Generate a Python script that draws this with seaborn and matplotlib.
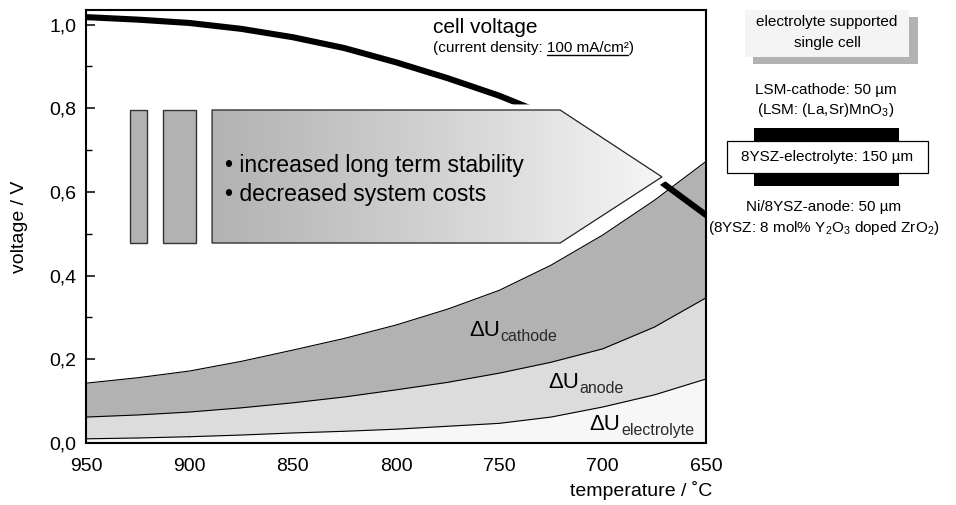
import numpy as np
import pandas as pd
import matplotlib
matplotlib.use("Agg")
import matplotlib.pyplot as plt
import seaborn as sns
from matplotlib.patches import Polygon, Rectangle
from matplotlib.colors import LinearSegmentedColormap
from matplotlib.ticker import MultipleLocator, FuncFormatter
from matplotlib.lines import Line2D

# ---------------- data ----------------
temperature = [950, 925, 900, 875, 850, 825, 800, 775, 750, 725, 700, 675, 650]
cell_voltage = [1.018, 1.012, 1.004, 0.990, 0.970, 0.944, 0.910, 0.872, 0.830, 0.780, 0.712, 0.636, 0.545]
# cumulative tops of the loss bands
du_electrolyte_top = [0.010, 0.012, 0.015, 0.019, 0.024, 0.028, 0.033, 0.040, 0.047, 0.062, 0.086, 0.115, 0.153]
du_anode_top = [0.062, 0.067, 0.074, 0.084, 0.096, 0.110, 0.127, 0.145, 0.167, 0.193, 0.225, 0.277, 0.347]
du_cathode_top = [0.143, 0.156, 0.172, 0.195, 0.222, 0.250, 0.282, 0.320, 0.365, 0.425, 0.497, 0.580, 0.673]

x_ticks = [950, 900, 850, 800, 750, 700, 650]
y_ticks = [0.0, 0.2, 0.4, 0.6, 0.8, 1.0]

df = pd.DataFrame({
    "temperature": temperature,
    "cell": cell_voltage,
    "electrolyte": du_electrolyte_top,
    "anode": du_anode_top,
    "cathode": du_cathode_top,
})

# ---------------- style ----------------
sns.set_theme(style="white")
plt.rcParams["font.family"] = ["Liberation Sans", "DejaVu Sans"]
plt.rcParams["mathtext.fontset"] = "custom"
plt.rcParams["mathtext.rm"] = "Liberation Sans"
plt.rcParams["mathtext.it"] = "Liberation Sans:italic"
plt.rcParams["mathtext.bf"] = "Liberation Sans:bold"
plt.rcParams["text.color"] = "black"
plt.rcParams["axes.labelcolor"] = "black"
plt.rcParams["xtick.color"] = "black"
plt.rcParams["ytick.color"] = "black"

W, H = 956, 505
fig = plt.figure(figsize=(W / 100, H / 100), dpi=100)
fig.patch.set_facecolor("white")
ax = fig.add_axes([86 / W, 62 / H, 620 / W, 433 / H])


def fx(px):
    return px / W


def fy(py):
    return 1 - py / H


# ---------------- bands ----------------
zeros = np.zeros(len(temperature))
ax.fill_between(df["temperature"], zeros, df["electrolyte"], color="#f7f7f7", lw=0, zorder=1)
ax.fill_between(df["temperature"], df["electrolyte"], df["anode"], color="#dcdcdc", lw=0, zorder=1)
ax.fill_between(df["temperature"], df["anode"], df["cathode"], color="#b2b2b2", lw=0, zorder=1)
for col in ["electrolyte", "anode", "cathode"]:
    sns.lineplot(data=df, x="temperature", y=col, color="black", lw=0.8, ax=ax, zorder=2)

sns.lineplot(data=df, x="temperature", y="cell", color="black", lw=4.4, ax=ax, zorder=3)

ax.set_xlim(950, 650)
ax.set_ylim(0, 1.035)
ax.set_xlabel("")
ax.set_ylabel("")

ax.set_xticks(x_ticks)
ax.set_yticks(y_ticks)
ax.xaxis.set_minor_locator(MultipleLocator(25))
ax.yaxis.set_minor_locator(MultipleLocator(0.1))
ax.yaxis.set_major_formatter(FuncFormatter(lambda v, p: f"{v:.1f}".replace(".", ",")))
ax.tick_params(which="both", direction="in", bottom=True, left=True, top=False, right=False,
               colors="black", labelcolor="black")
ax.tick_params(which="major", length=6.5, width=1.1, labelsize=14)
ax.tick_params(axis="x", which="major", pad=11)
ax.tick_params(axis="y", which="major", pad=7)
ax.tick_params(which="minor", length=4, width=1.0)
for s in ax.spines.values():
    s.set_visible(True)
    s.set_color("black")
    s.set_linewidth(1.5)

# ---------------- arrow / bars annotation ----------------
arrow_pts = [(889, 0.796), (720.6, 0.796), (671.3, 0.636), (720.6, 0.478), (889, 0.478)]
halo = Polygon(arrow_pts, closed=True, facecolor="white", edgecolor="white", lw=8, zorder=4)
ax.add_patch(halo)
clip = Polygon(arrow_pts, closed=True, facecolor="none", edgecolor="none", zorder=5)
ax.add_patch(clip)
cmap = LinearSegmentedColormap.from_list("g", ["#b2b2b2", "#d2d2d2", "#f6f6f6"])
grad = np.linspace(0, 1, 256).reshape(1, -1)
im = ax.imshow(grad, cmap=cmap, extent=(889, 671.3, 0.478, 0.796), aspect="auto",
               zorder=5, interpolation="bilinear")
im.set_clip_path(clip)
ax.add_patch(Polygon(arrow_pts, closed=True, facecolor="none", edgecolor="#222222", lw=0.9, zorder=6))

ax.add_patch(Rectangle((920.6, 0.478), 8.2, 0.318, facecolor="#b2b2b2", edgecolor="#333333", lw=1.0, zorder=5))
ax.add_patch(Rectangle((897.0, 0.478), 15.8, 0.318, facecolor="#b2b2b2", edgecolor="#333333", lw=1.0, zorder=5))
ax.set_xlim(950, 650)
ax.set_ylim(0, 1.035)

fig.text(fx(225), fy(172), "\u2022 increased long term stability", fontsize=16.6,
         ha="left", va="baseline", zorder=10)
fig.text(fx(225), fy(201), "\u2022 decreased system costs", fontsize=16.6,
         ha="left", va="baseline", zorder=10)

renderer = fig.canvas.get_renderer()

# ---------------- cell voltage label ----------------
fig.text(fx(433), fy(33), "cell voltage", fontsize=15, ha="left", va="baseline")
cd = fig.text(fx(433), fy(52), "(current density: 100 mA/cm\u00b2)", fontsize=11, ha="left", va="baseline")
tail = fig.text(0, 0, "100 mA/cm\u00b2)", fontsize=11, alpha=0)
par = fig.text(0, 0, ")", fontsize=11, alpha=0)
bb_full = cd.get_window_extent(renderer)
w_tail = tail.get_window_extent(renderer).width
w_par = par.get_window_extent(renderer).width
u0 = bb_full.x1 - w_tail
u1 = bb_full.x1 - w_par - 1
uy = fy(55)
fig.add_artist(Line2D([u0 / W, u1 / W], [uy, uy], color="black", lw=1.0, transform=fig.transFigure))


# ---------------- delta U labels ----------------
def du_label(px, py, sub, sub_drop=5):
    t = fig.text(fx(px), fy(py), "\u0394U", fontsize=16, ha="left", va="baseline", color="black", zorder=10)
    bb = t.get_window_extent(renderer)
    fig.text((bb.x1 + 1) / W, fy(py + sub_drop), sub, fontsize=11.5, ha="left", va="baseline",
             color="#2a2a2a", zorder=10)


du_label(469, 336, "cathode")
du_label(548, 388, "anode")
du_label(589, 430, "electrolyte")

# ---------------- axis labels ----------------
fig.text(fx(20), fy(227), "voltage / V", rotation=90, fontsize=14, ha="center", va="center")
fig.text(fx(712), fy(490), "temperature / \u02daC", fontsize=14, ha="right", va="center")


# ---------------- right-hand cell sketch ----------------
def rect_px(x0, y0, x1, y1, **kw):
    fig.add_artist(Rectangle((fx(x0), fy(y1)), (x1 - x0) / W, (y1 - y0) / H,
                             transform=fig.transFigure, **kw))


rect_px(753, 17, 918, 64, facecolor="#b2b2b2", edgecolor="none")
rect_px(745, 10, 909, 57, facecolor="#f4f4f4", edgecolor="none")
fig.text(fx(827), fy(22), "electrolyte supported", fontsize=11, ha="center", va="center")
fig.text(fx(827), fy(43), "single cell", fontsize=11, ha="center", va="center")

fig.text(fx(826), fy(90), "LSM-cathode: 50 \u00b5m", fontsize=11, ha="center", va="center")
fig.text(fx(826), fy(110), "(LSM: (La,Sr)MnO$_3$)", fontsize=11, ha="center", va="center")
rect_px(754, 128, 899, 141, facecolor="black", edgecolor="none")
rect_px(754, 173, 899, 186, facecolor="black", edgecolor="none")
rect_px(727, 141, 928, 173, facecolor="white", edgecolor="black", lw=0.9)
fig.text(fx(827), fy(157), "8YSZ-electrolyte: 150 \u00b5m", fontsize=11, ha="center", va="center")
fig.text(fx(824), fy(207), "Ni/8YSZ-anode: 50 \u00b5m", fontsize=11, ha="center", va="center")
fig.text(fx(824), fy(228), "(8YSZ: 8 mol% Y$_2$O$_3$ doped ZrO$_2$)", fontsize=11, ha="center", va="center")

fig.savefig("out.png", dpi=100)
